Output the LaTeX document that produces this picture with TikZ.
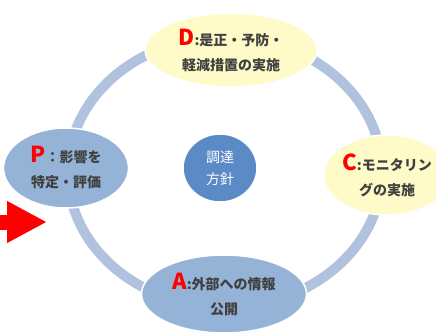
\documentclass[tikz,border=0pt]{standalone}
\usepackage{fontspec}
\newfontfamily\jpfont{Noto Sans CJK JP}
\usetikzlibrary{shapes.geometric,arrows.meta}

\definecolor{ringblue}{HTML}{B0C2DE}
\definecolor{paleyellow}{HTML}{FEFBC8}
\definecolor{softblue}{HTML}{95B3D7}
\definecolor{hubblue}{HTML}{5B8BC7}
\definecolor{textgray}{HTML}{404040}
\newcommand{\phaseletter}[1]{{\fontsize{22}{22}\selectfont\textcolor{red}{#1}}}

\begin{document}
\begin{tikzpicture}[x=1pt,y=1pt,
  phase/.style={ellipse,draw=white,line width=1.5pt,inner sep=0pt,align=center,
    font=\jpfont\bfseries\fontsize{14}{25}\selectfont,text=textgray},
  hub/.style={ellipse,fill=hubblue,draw=white,line width=1.5pt,inner sep=0pt,align=center,
    minimum width=74pt,minimum height=68pt,
    font=\jpfont\fontsize{14}{22}\selectfont,text=white}]
\useasboundingbox (0,0) rectangle (436,-333);
\clip (0,0) rectangle (436,-333);
% cycle ring
\draw[ringblue,line width=10pt] (225,-172) ellipse [x radius=157,y radius=135];
% phases
\node [hub] (hub) at (220,-168) {調達\\方針};
\node [phase,fill=paleyellow,minimum width=172pt,minimum height=74pt] (D) at (231,-50)
  {\phaseletter{D}:是正・予防・\\軽減措置の実施};
\node [phase,fill=softblue,minimum width=125pt,minimum height=80pt] (P) at (66,-168)
  {\phaseletter{P}：影響を\\特定・評価};
\node [phase,fill=paleyellow,minimum width=125pt,minimum height=80pt] (C) at (387,-175)
  {\phaseletter{C}:モニタリン\\グの実施};
\node [phase,fill=softblue,minimum width=165pt,minimum height=78pt] (A) at (224,-294)
  {\phaseletter{A}:外部への情報\\公開};
% start arrow
\coordinate (arrowtail) at (-5,-222);
\coordinate (arrowtip) at (47,-222);
\draw [red,line width=15pt,-{Triangle[length=40pt,width=39pt]}] (arrowtail) -- (arrowtip);
\end{tikzpicture}
\end{document}
